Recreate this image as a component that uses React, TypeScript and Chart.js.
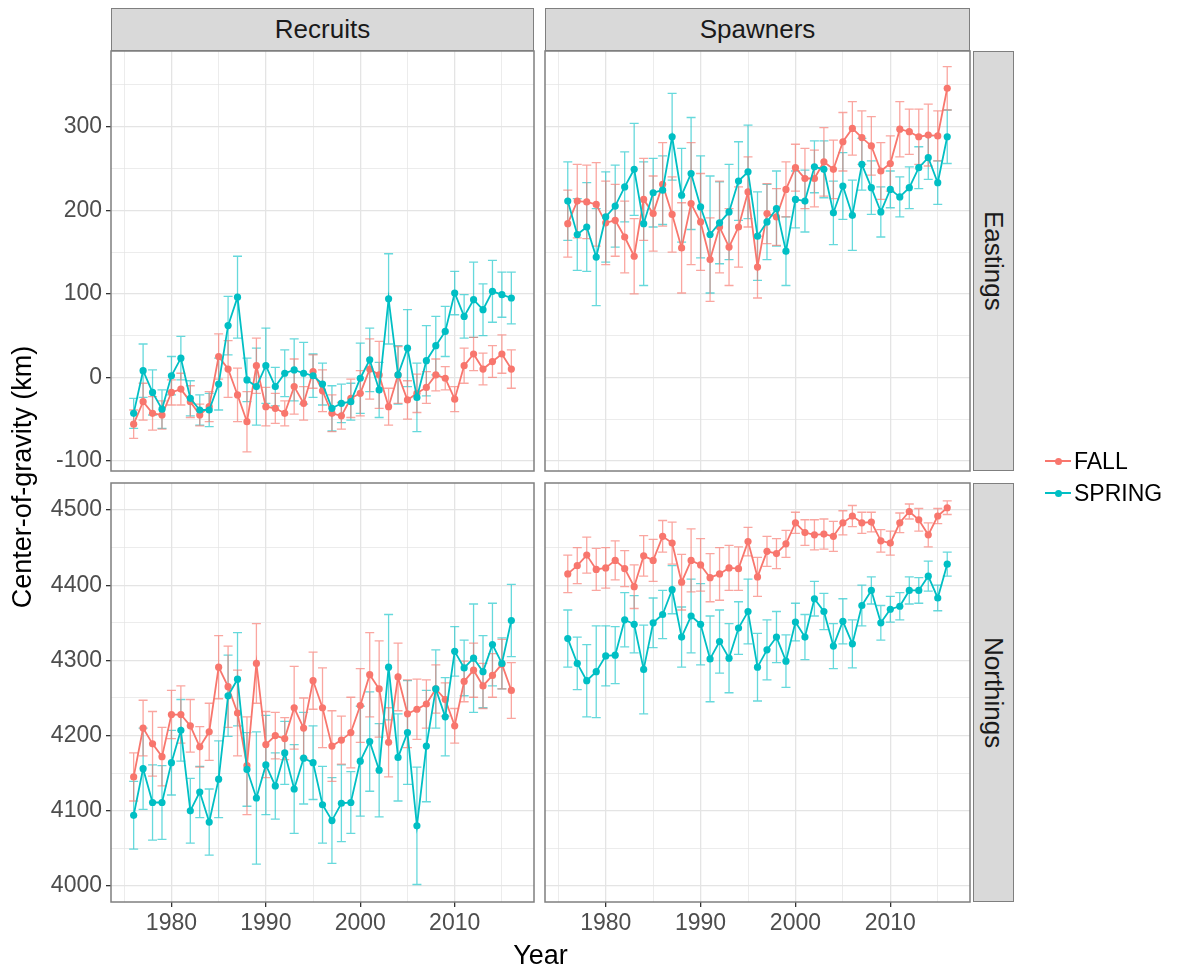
import React, { useEffect, useRef } from "react";
import { Chart, registerables } from "chart.js";

Chart.register(...registerables);

// ---------- data ----------
const years = [
  1976, 1977, 1978, 1979, 1980, 1981, 1982, 1983, 1984, 1985,
  1986, 1987, 1988, 1989, 1990, 1991, 1992, 1993, 1994, 1995,
  1996, 1997, 1998, 1999, 2000, 2001, 2002, 2003, 2004, 2005,
  2006, 2007, 2008, 2009, 2010, 2011, 2012, 2013, 2014, 2015, 2016,
];

// Recruits / Eastings
const recruitsEastFall = [
  -56, -29, -43, -45, -18, -14, -29, -45, -35, 25,
  10, -21, -53, 14, -35, -37, -43, -11, -31, 7,
  -16, -43, -46, -25, -19, 10, 3, -35, 3, -27,
  -19, -12, 3, -1, -26, 14, 28, 10, 19, 28, 10,
];
const recruitsEastFallErr = [
  17, 22, 20, 17, 15, 19, 19, 13, 18, 27,
  34, 32, 36, 33, 23, 18, 15, 33, 20, 20,
  25, 22, 16, 23, 27, 36, 40, 22, 34, 23,
  23, 19, 19, 14, 15, 21, 20, 19, 19, 23, 23,
];
const recruitsEastSpring = [
  -43, 8, -18, -38, 2, 23, -25, -39, -39, -8,
  62, 96, -3, -11, 14, -11, 5, 9, 5, 2,
  -8, -37, -31, -29, -1, 21, -15, 94, 3, 35,
  -24, 20, 38, 55, 101, 73, 93, 81, 103, 99, 95,
];
const recruitsEastSpringErr = [
  18, 32, 27, 23, 23, 26, 21, 18, 20, 31,
  35, 49, 26, 46, 45, 23, 28, 37, 37, 26,
  25, 27, 23, 22, 42, 38, 33, 54, 35, 46,
  41, 42, 35, 30, 26, 26, 45, 31, 37, 27, 31,
];

// Spawners / Eastings
const spawnersEastFall = [
  184, 211, 210, 207, 185, 188, 168, 145, 213, 196,
  231, 195, 155, 208, 186, 141, 180, 156, 180, 222,
  132, 196, 192, 225, 251, 238, 238, 258, 249, 282,
  298, 287, 277, 247, 256, 297, 294, 288, 290, 289, 346,
];
const spawnersEastFallErr = [
  40, 44, 44, 50, 50, 43, 43, 45, 49, 45,
  50, 45, 54, 73, 58, 50, 55, 46, 48, 42,
  37, 36, 34, 33, 28, 36, 34, 41, 35, 35,
  32, 32, 35, 34, 33, 33, 27, 33, 37, 30, 26,
];
const spawnersEastSpring = [
  211, 171, 180, 144, 192, 205, 228, 249, 184, 221,
  224, 288, 218, 244, 204, 171, 185, 198, 235, 246,
  169, 186, 202, 151, 213, 211, 252, 249, 197, 229,
  194, 255, 227, 198, 225, 216, 227, 251, 263, 233, 288,
];
const spawnersEastSpringErr = [
  47, 43, 53, 58, 54, 49, 42, 55, 74, 41,
  41, 52, 56, 67, 61, 70, 49, 57, 47, 56,
  53, 45, 45, 41, 34, 37, 31, 34, 38, 40,
  42, 31, 32, 30, 22, 24, 25, 25, 26, 26, 32,
];

// Recruits / Northings
const recruitsNorthFall = [
  4145, 4210, 4189, 4172, 4228, 4228, 4213, 4185, 4205, 4291,
  4265, 4230, 4160, 4296, 4188, 4200, 4196, 4237, 4210, 4273,
  4237, 4186, 4194, 4204, 4240, 4281, 4262, 4191, 4278, 4229,
  4235, 4242, 4262, 4248, 4213, 4272, 4287, 4266, 4280, 4295, 4260,
];
const recruitsNorthFallErr = [
  32, 37, 43, 39, 32, 38, 35, 27, 38, 42,
  54, 57, 65, 53, 44, 31, 28, 55, 40, 38,
  53, 47, 32, 47, 49, 56, 64, 46, 45, 45,
  40, 32, 32, 22, 23, 27, 36, 30, 29, 33, 37,
];
const recruitsNorthSpring = [
  4094, 4156, 4111, 4111, 4164, 4207, 4100, 4125, 4085, 4142,
  4253, 4275, 4155, 4117, 4161, 4133, 4177, 4129, 4170, 4164,
  4108, 4087, 4110, 4111, 4166, 4192, 4154, 4291, 4171, 4204,
  4080, 4186, 4262, 4225, 4312, 4290, 4303, 4285, 4321, 4296, 4353,
];
const recruitsNorthSpringErr = [
  45, 54, 50, 49, 43, 41, 43, 34, 44, 51,
  54, 62, 49, 88, 66, 44, 42, 59, 61, 49,
  51, 57, 51, 41, 73, 66, 62, 70, 58, 69,
  78, 74, 52, 52, 33, 37, 72, 48, 55, 34, 48,
];

// Spawners / Northings
const spawnersNorthFall = [
  4415, 4426, 4440, 4421, 4423, 4433, 4422, 4398, 4439, 4433,
  4465, 4456, 4404, 4433, 4427, 4410, 4415, 4423, 4422, 4458,
  4411, 4445, 4442, 4455, 4483, 4470, 4467, 4468, 4465, 4483,
  4492, 4483, 4484, 4459, 4456, 4483, 4498, 4487, 4467, 4492, 4503,
];
const spawnersNorthFallErr = [
  25, 24, 24, 28, 27, 26, 24, 29, 27, 28,
  21, 28, 37, 42, 35, 32, 35, 30, 29, 19,
  26, 20, 20, 18, 14, 17, 20, 20, 20, 16,
  14, 14, 13, 15, 16, 13, 10, 15, 16, 10, 9,
];
const spawnersNorthSpring = [
  4329, 4296, 4273, 4285, 4306, 4307, 4354, 4348, 4288, 4350,
  4361, 4394, 4331, 4359, 4348, 4302, 4325, 4303, 4343, 4365,
  4291, 4314, 4331, 4299, 4351, 4331, 4382, 4365, 4319, 4352,
  4322, 4373, 4393, 4350, 4368, 4372, 4393, 4393, 4412, 4383, 4428,
];
const spawnersNorthSpringErr = [
  38, 35, 48, 61, 40, 38, 36, 38, 59, 33,
  32, 32, 40, 49, 54, 57, 42, 46, 35, 43,
  45, 40, 34, 35, 25, 30, 23, 24, 30, 30,
  32, 27, 18, 23, 17, 18, 18, 17, 20, 17, 16,
];

// ticks
const xGridTicks = [1975, 1980, 1985, 1990, 1995, 2000, 2005, 2010, 2015];
const xTickLabels = [1980, 1990, 2000, 2010];
const eastGridTicks = [-100, -50, 0, 50, 100, 150, 200, 250, 300, 350];
const eastTickLabels = [-100, 0, 100, 200, 300];
const northGridTicks = [4000, 4050, 4100, 4150, 4200, 4250, 4300, 4350, 4400, 4450, 4500];
const northTickLabels = [4000, 4100, 4200, 4300, 4400, 4500];

const seriesNames = ["FALL", "SPRING"];
const colFacets = ["Recruits", "Spawners"];
const rowFacets = ["Eastings", "Northings"];

// ---------- style ----------
const W = 1181;
const H = 972;
const YW = 60;
const XH = 40;
const FALL_COLOR = "#F8766D";
const SPRING_COLOR = "#00BFC4";
const FALL_ERR = "rgba(248,118,109,0.65)";
const SPRING_ERR = "rgba(0,191,196,0.6)";
const BORDER = "#7F7F7F";
const FONT = "'Liberation Sans', Arial, sans-serif";

const errorBarPlugin = {
  id: "errorBarsAndBorder",
  beforeDatasetsDraw(chart: any) {
    const { ctx } = chart;
    const xs = chart.scales.x;
    const ys = chart.scales.y;
    ctx.save();
    const n = chart.data.datasets.length;
    for (let i = n - 1; i >= 0; i--) {
      const ds: any = chart.data.datasets[i];
      const errs: number[] = ds.errors || [];
      ctx.strokeStyle = ds.errColor;
      ctx.lineWidth = 1.3;
      ds.data.forEach((p: any, j: number) => {
        const e = errs[j];
        if (e == null) return;
        const x = xs.getPixelForValue(p.x);
        const y1 = ys.getPixelForValue(p.y - e);
        const y2 = ys.getPixelForValue(p.y + e);
        ctx.beginPath();
        ctx.moveTo(x, y1);
        ctx.lineTo(x, y2);
        ctx.moveTo(x - 4.5, y1);
        ctx.lineTo(x + 4.5, y1);
        ctx.moveTo(x - 4.5, y2);
        ctx.lineTo(x + 4.5, y2);
        ctx.stroke();
      });
    }
    ctx.restore();
  },
  afterDraw(chart: any) {
    const { ctx, chartArea } = chart;
    ctx.save();
    ctx.strokeStyle = BORDER;
    ctx.lineWidth = 1.5;
    ctx.strokeRect(chartArea.left, chartArea.top, chartArea.right - chartArea.left, chartArea.bottom - chartArea.top);
    ctx.restore();
  },
};

type Area = { l: number; t: number; r: number; b: number };

type PanelProps = {
  fall: number[];
  fallErr: number[];
  spring: number[];
  springErr: number[];
  yMin: number;
  yMax: number;
  yGrid: number[];
  yLabels: number[];
  area: Area;
  showX: boolean;
  showY: boolean;
};

function Panel(props: PanelProps) {
  const ref = useRef<HTMLCanvasElement | null>(null);
  useEffect(() => {
    if (!ref.current) return;
    const { fall, fallErr, spring, springErr, yMin, yMax, yGrid, yLabels, area, showX, showY } = props;
    const gridColor = "#E4E4E4";
    const chart = new Chart(ref.current, {
      type: "line",
      data: {
        datasets: [
          {
            label: seriesNames[0],
            data: years.map((y, i) => ({ x: y, y: fall[i] })),
            borderColor: FALL_COLOR,
            backgroundColor: FALL_COLOR,
            pointBackgroundColor: FALL_COLOR,
            pointBorderWidth: 0,
            pointRadius: 3.6,
            borderWidth: 1.8,
            tension: 0,
            order: 1,
            errors: fallErr,
            errColor: FALL_ERR,
          } as any,
          {
            label: seriesNames[1],
            data: years.map((y, i) => ({ x: y, y: spring[i] })),
            borderColor: SPRING_COLOR,
            backgroundColor: SPRING_COLOR,
            pointBackgroundColor: SPRING_COLOR,
            pointBorderWidth: 0,
            pointRadius: 3.6,
            borderWidth: 1.8,
            tension: 0,
            order: 0,
            errors: springErr,
            errColor: SPRING_ERR,
          } as any,
        ],
      },
      options: {
        animation: false,
        responsive: false,
        maintainAspectRatio: false,
        devicePixelRatio: 1,
        layout: {
          padding: { left: area.l - YW, top: area.t, right: W - area.r, bottom: H - area.b - XH },
        },
        plugins: { legend: { display: false }, tooltip: { enabled: false } },
        scales: {
          x: {
            type: "linear",
            min: 1973.6,
            max: 2018.4,
            afterBuildTicks: (s: any) => {
              s.ticks = xGridTicks.map((v) => ({ value: v }));
            },
            afterFit: (s: any) => {
              s.height = XH;
              s.paddingLeft = 0;
              s.paddingRight = 0;
            },
            border: { display: false },
            grid: {
              color: gridColor,
              lineWidth: (c: any) => (xTickLabels.includes(c.tick?.value) ? 1.3 : 0.7),
              drawTicks: showX,
              tickLength: 5,
              tickWidth: 1.3,
              tickColor: (c: any) => (xTickLabels.includes(c.tick?.value) ? "#333333" : "rgba(0,0,0,0)"),
            },
            ticks: {
              display: showX,
              autoSkip: false,
              maxRotation: 0,
              minRotation: 0,
              padding: 3,
              color: "#4D4D4D",
              font: { family: FONT, size: 23 },
              callback: (v: any) => (xTickLabels.includes(Number(v)) ? String(v) : ""),
            },
          },
          y: {
            type: "linear",
            min: yMin,
            max: yMax,
            afterBuildTicks: (s: any) => {
              s.ticks = yGrid.map((v) => ({ value: v }));
            },
            afterFit: (s: any) => {
              s.width = YW;
              s.paddingTop = 0;
              s.paddingBottom = 0;
            },
            border: { display: false },
            grid: {
              color: gridColor,
              lineWidth: (c: any) => (yLabels.includes(c.tick?.value) ? 1.3 : 0.7),
              drawTicks: showY,
              tickLength: 5,
              tickWidth: 1.3,
              tickColor: (c: any) => (yLabels.includes(c.tick?.value) ? "#333333" : "rgba(0,0,0,0)"),
            },
            ticks: {
              display: showY,
              autoSkip: false,
              padding: 4,
              color: "#4D4D4D",
              font: { family: FONT, size: 23 },
              callback: (v: any) => (yLabels.includes(Number(v)) ? String(v) : ""),
            },
          },
        },
      } as any,
      plugins: [errorBarPlugin],
    });
    return () => chart.destroy();
  }, []);
  return (
    <canvas
      ref={ref}
      width={W}
      height={H}
      style={{ position: "absolute", left: 0, top: 0, width: W, height: H }}
    />
  );
}

const stripTop: React.CSSProperties = {
  position: "absolute",
  boxSizing: "border-box",
  background: "#D9D9D9",
  border: `1.5px solid ${BORDER}`,
  color: "#1A1A1A",
  fontSize: 26,
  display: "flex",
  alignItems: "center",
  justifyContent: "center",
};

const stripRight: React.CSSProperties = {
  ...stripTop,
  writingMode: "vertical-rl" as any,
};

export default function App() {
  const TL: Area = { l: 111, t: 51, r: 534, b: 471 };
  const TR: Area = { l: 545, t: 51, r: 970, b: 471 };
  const BL: Area = { l: 111, t: 483, r: 534, b: 902 };
  const BR: Area = { l: 545, t: 483, r: 970, b: 902 };
  return (
    <div
      style={{
        position: "absolute",
        left: 0,
        top: 0,
        width: W,
        height: H,
        background: "#FFFFFF",
        fontFamily: FONT,
        overflow: "hidden",
      }}
    >
      <Panel fall={recruitsEastFall} fallErr={recruitsEastFallErr} spring={recruitsEastSpring} springErr={recruitsEastSpringErr}
        yMin={-112} yMax={390.6} yGrid={eastGridTicks} yLabels={eastTickLabels} area={TL} showX={false} showY={true} />
      <Panel fall={spawnersEastFall} fallErr={spawnersEastFallErr} spring={spawnersEastSpring} springErr={spawnersEastSpringErr}
        yMin={-112} yMax={390.6} yGrid={eastGridTicks} yLabels={eastTickLabels} area={TR} showX={false} showY={false} />
      <Panel fall={recruitsNorthFall} fallErr={recruitsNorthFallErr} spring={recruitsNorthSpring} springErr={recruitsNorthSpringErr}
        yMin={3978.7} yMax={4535.9} yGrid={northGridTicks} yLabels={northTickLabels} area={BL} showX={true} showY={true} />
      <Panel fall={spawnersNorthFall} fallErr={spawnersNorthFallErr} spring={spawnersNorthSpring} springErr={spawnersNorthSpringErr}
        yMin={3978.7} yMax={4535.9} yGrid={northGridTicks} yLabels={northTickLabels} area={BR} showX={true} showY={false} />

      {/* column strips */}
      <div style={{ ...stripTop, left: TL.l, top: 8, width: TL.r - TL.l, height: TL.t - 8 }}>{colFacets[0]}</div>
      <div style={{ ...stripTop, left: TR.l, top: 8, width: TR.r - TR.l, height: TR.t - 8 }}>{colFacets[1]}</div>
      {/* row strips */}
      <div style={{ ...stripRight, left: TR.r + 3, top: TR.t, width: 41, height: TR.b - TR.t }}>{rowFacets[0]}</div>
      <div style={{ ...stripRight, left: BR.r + 3, top: BR.t, width: 41, height: BR.b - BR.t }}>{rowFacets[1]}</div>

      {/* axis titles */}
      <div
        style={{
          position: "absolute",
          left: 22 - 300,
          top: 477 - 18,
          width: 600,
          height: 36,
          lineHeight: "36px",
          textAlign: "center",
          fontSize: 27,
          color: "#000",
          transform: "rotate(-90deg)",
        }}
      >
        Center-of-gravity (km)
      </div>
      <div
        style={{
          position: "absolute",
          left: TL.l,
          top: 937,
          width: TR.r - TL.l,
          height: 36,
          lineHeight: "36px",
          textAlign: "center",
          fontSize: 27,
          color: "#000",
        }}
      >
        Year
      </div>

      {/* legend */}
      {[FALL_COLOR, SPRING_COLOR].map((c, i) => (
        <div key={i} style={{ position: "absolute", left: 1044, top: 461 + i * 32 - 16, height: 32, width: 137 }}>
          <div style={{ position: "absolute", left: 1, top: 15, width: 26, height: 2, background: c }} />
          <div style={{ position: "absolute", left: 10.5, top: 12.5, width: 7, height: 7, borderRadius: "50%", background: c }} />
          <div style={{ position: "absolute", left: 30, top: 0, height: 32, lineHeight: "32px", fontSize: 23, color: "#000" }}>
            {seriesNames[i]}
          </div>
        </div>
      ))}
    </div>
  );
}
